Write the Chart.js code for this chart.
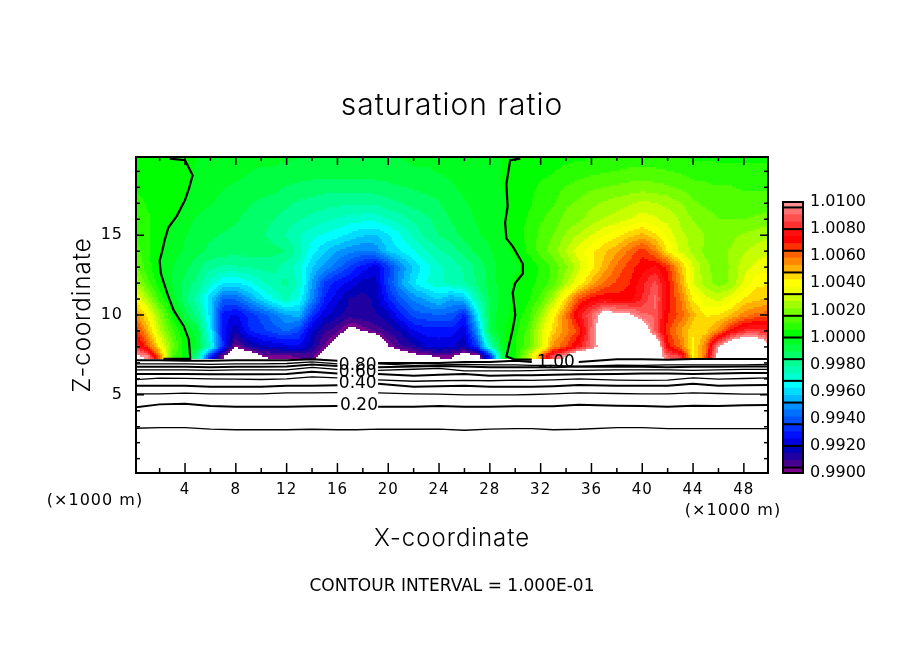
<!DOCTYPE html>
<html>
<head>
<meta charset="utf-8">
<title>saturation ratio</title>
<script src="https://cdn.jsdelivr.net/npm/chart.js@4"></script>
<style>
  html, body { margin: 0; padding: 0; background: #fff; }
  #wrap { position: relative; width: 904px; height: 654px; overflow: hidden; }
  #main { position: absolute; left: 0; top: 0; }
  #bar { position: absolute; left: 770px; top: 190px; }
</style>
</head>
<body>
<div id="wrap">
  <canvas id="main" width="904" height="654"></canvas>
  <canvas id="bar" width="134" height="300"></canvas>
</div>
<script>
// saturation ratio, as (S - 1) * 10000. one row per height (x = 0..50 km)
// +-130 means the picture is white there (out of the colour range)
const fieldHeights = [7.4, 8, 9, 10, 11, 12, 13, 14, 15, 16, 17, 18, 19, 20];
const row07 = [104,99,60,12,3,-20,-70,-100,-125,-115,-101,-99,-98,-96,-95,-108,-125,-130,-130,-130,-130,-115,-105,-102,-100,-100,-110,-108,-70,-10,5,25,55,90,102,125,130,130,130,130,130,115,92,85,42,60,110,130,130,130,130];
const row08 = [85,66,42,18,3,-6,-28,-68,-100,-88,-82,-80,-78,-76,-85,-97,-110,-125,-130,-125,-100,-92,-88,-80,-78,-80,-84,-65,-28,-3,5,14,30,55,64,78,92,110,130,130,130,125,72,60,40,58,100,120,130,125,105];
const row09 = [72,52,28,12,0,-8,-35,-72,-84,-70,-66,-62,-58,-64,-80,-90,-94,-105,-100,-94,-90,-84,-75,-72,-72,-72,-78,-50,-10,-1,4,12,30,46,56,66,92,115,130,130,115,90,66,54,44,46,56,72,82,84,80];
const row10 = [58,42,22,4,-8,-18,-40,-72,-76,-68,-62,-55,-48,-46,-66,-78,-84,-88,-86,-86,-82,-70,-62,-60,-59,-60,-70,-38,-9,-2,2,8,22,40,58,78,90,108,105,102,92,90,70,62,50,42,43,48,56,60,62];
const row11 = [42,26,9,-2,-14,-24,-42,-58,-58,-50,-40,-32,-25,-33,-52,-70,-78,-86,-88,-84,-70,-60,-52,-47,-42,-48,-44,-24,-10,-3,1,4,12,26,45,64,72,74,72,72,80,92,72,59,42,34,30,36,43,47,48];
const row12 = [28,13,2,-6,-12,-18,-28,-37,-38,-34,-28,-23,-20,-28,-48,-65,-72,-76,-82,-82,-64,-49,-38,-32,-28,-25,-22,-15,-8,-3,1,3,7,13,25,38,50,60,65,69,78,87,72,54,32,24,19,22,33,41,42];
const row13 = [18,8,0,-5,-9,-14,-20,-22,-22,-21,-20,-20,-24,-30,-42,-50,-57,-65,-72,-78,-66,-52,-42,-34,-28,-25,-20,-15,-8,-3,-1,1,6,12,20,30,40,50,60,67,72,76,68,50,32,23,18,22,30,34,36];
const row14 = [14,7,1,-3,-6,-9,-12,-13,-14,-13,-13,-14,-16,-24,-35,-42,-48,-52,-54,-52,-42,-37,-33,-27,-22,-19,-14,-9,-6,-2,1,6,13,19,27,35,41,47,52,60,68,58,42,31,25,20,19,22,26,29,31];
const row15 = [11,6,2,-2,-5,-8,-10,-11,-12,-13,-15,-18,-22,-26,-30,-33,-35,-39,-42,-43,-38,-32,-26,-20,-16,-13,-9,-6,-4,-1,2,7,12,16,22,27,32,37,41,46,50,44,36,28,25,21,19,20,22,24,26];
const row16 = [9,6,4,1,-3,-6,-8,-9,-10,-12,-14,-16,-18,-21,-23,-25,-27,-29,-30,-30,-27,-24,-20,-17,-14,-10,-7,-5,-3,-1,2,6,10,13,18,20,24,27,29,32,35,33,30,26,21,18,16,16,16,17,18];
const row17 = [7,5,3,2,0,-3,-5,-7,-9,-10,-12,-13,-15,-17,-18,-19,-20,-20,-20,-20,-18,-16,-14,-13,-11,-8,-6,-4,-3,-1,1,4,8,10,15,17,20,22,24,26,28,27,25,22,17,15,14,13,13,13,13];
const row18 = [5,4,3,3,1,-2,-3,-5,-6,-7,-8,-9,-11,-12,-13,-14,-14,-14,-14,-13,-12,-11,-10,-9,-8,-6,-4,-3,-2,0,2,4,6,8,11,13,15,16,17,18,19,18,17,15,13,12,11,11,10,10,10];
const row19 = [3,3,2,2,2,-1,-2,-3,-4,-5,-6,-6,-7,-8,-8,-8,-8,-8,-8,-8,-8,-7,-6,-6,-5,-4,-4,-2,-1,0,2,3,4,5,7,8,9,10,11,12,12,12,11,10,8,8,7,7,7,7,7];
const row20 = [2,2,2,2,2,0,-1,-2,-3,-3,-4,-4,-4,-5,-5,-5,-5,-5,-5,-5,-5,-5,-4,-4,-3,-3,-2,-1,-1,0,1,2,2,3,3,4,4,5,5,6,6,6,5,5,4,4,4,4,4,4,4];
const fieldRows = [row07, row08, row09, row10, row11, row12, row13, row14, row15, row16, row17, row18, row19, row20];

// colour bands, bottom to top. every band after the first is 16/3 wide between the black lines
const bandColors = ["#7c0090",
  "#480090","#2000a0","#0000b8", "#0000e0","#0010ff","#0030ff", "#0050ff","#0070ff","#0090ff",
  "#00b8ff","#00dcff","#00ffff", "#00ffd0","#00ffb0","#00ff90", "#00ff68","#00ff40","#00ff20",
  "#00ff00","#28ff00","#50ff00", "#78ff00","#a0ff00","#c8ff00", "#f0ff00","#ffff00","#ffd800",
  "#ffb000","#ff8800","#ff6000", "#ff3000","#ff0000","#ff1010", "#ff3030","#ff5050","#ff7070",
  "#ff9090"];
const barTicks = [0.99, 0.992, 0.994, 0.996, 0.998, 1.0, 1.002, 1.004, 1.006, 1.008, 1.01];
const bandLines = [-96, -80, -64, -48, -32, -16, 0, 16, 32, 48, 64, 80, 96];

// contour lines of the white part, heights in km along contourX
const contourX = [0,2,4,6,8,10,12,14,16,17.5,19.2,22,24,26,28,30,31.3,33,35,38,40,42,44,46,48,50];
const c01 = [2.90,2.94,2.94,2.85,2.81,2.81,2.81,2.84,2.81,2.81,2.85,2.84,2.85,2.78,2.85,2.88,2.88,2.81,2.84,2.94,2.94,2.88,2.88,2.88,2.88,2.88];
const c02 = [4.20,4.40,4.44,4.30,4.25,4.25,4.25,4.28,4.30,null,4.25,4.25,4.30,4.25,4.25,4.28,4.28,4.28,4.37,4.32,4.30,4.25,4.31,4.30,4.34,4.37];
const c03 = [5.06,5.06,5.10,5.06,5.06,5.06,5.12,5.12,5.14,null,5.12,5.06,5.04,5.00,5.00,5.00,5.02,5.06,5.12,5.08,5.06,5.06,5.12,5.08,5.04,5.04];
const c04 = [5.56,5.56,5.56,5.50,5.50,5.50,5.56,5.56,5.60,null,5.69,5.50,5.54,5.56,5.50,5.50,5.50,5.54,5.62,5.56,5.56,5.56,5.69,5.56,5.60,5.62];
const c05 = [5.94,6.05,6.03,6.00,5.98,5.96,6.00,6.12,6.06,null,5.94,5.85,5.88,5.90,5.88,5.92,5.90,5.94,6.00,5.92,5.90,5.92,6.06,5.98,6.02,6.06];
const c06 = [6.31,6.31,6.31,6.28,6.28,6.28,6.31,6.45,6.34,null,6.31,6.19,6.25,6.31,6.20,6.22,6.22,6.25,6.28,6.30,6.34,6.34,6.31,6.34,6.37,6.37];
const c07 = [6.56,6.56,6.56,6.53,6.56,6.56,6.56,6.72,6.59,null,6.53,6.60,6.66,6.50,6.50,6.50,6.52,6.56,6.53,6.56,6.56,6.56,6.53,6.56,6.59,6.59];
const c08 = [6.75,6.75,6.75,6.72,6.75,6.75,6.78,6.90,6.80,null,6.72,6.78,6.80,6.78,6.72,6.72,6.72,6.72,6.78,6.75,6.75,6.72,6.75,6.75,6.78,6.78];
const c09 = [6.94,6.94,6.94,6.90,6.94,6.94,6.96,7.06,6.94,null,6.94,6.84,6.88,6.90,6.88,6.88,6.84,6.84,6.78,6.85,6.84,6.88,6.88,6.88,6.88,6.90];
const c10 = [7.17,7.17,7.13,7.13,7.17,7.17,7.17,7.22,7.13,null,7.00,7.00,7.00,7.06,7.06,7.13,7.06,null,7.06,7.22,7.22,7.19,7.25,7.25,7.25,7.25];
const contourRows = [c01, c02, c03, c04, c05, c06, c07, c08, c09, c10];
const contourWidths = [1.3, 2, 1.3, 2, 1.3, 2, 1.3, 2, 1.3, 2];

// the S = 1 lines through the coloured part
const leftZeroX = [2.8,4,4.6,4.3,4,3.35,2.7,2.4,2.2,2,2.1,2.6,3.1,3.9,4.3,4.4,4.4,2.3];
const leftZeroZ = [19.8,19.7,18.75,17.9,17.2,16.2,15.5,14.7,14,13.4,12.6,11.35,10.3,9.3,8.45,7.4,7.25,7.25];
const rightZeroX = [30.4,29.6,29.3,29.4,29.2,29.3,29.8,30.6,30.6,30,29.8,30,29.8,29.3,30,31.3];
const rightZeroZ = [19.8,19.7,18.2,16.8,15.8,14.8,14.3,13.2,12.6,12,11.4,10,9.1,7.4,7.2,7.2];

const xTicks = [4, 8, 12, 16, 20, 24, 28, 32, 36, 40, 44, 48];
const xMinor = [2, 6, 10, 14, 18, 22, 26, 30, 34, 38, 42, 46];
const zTicks = [5, 10, 15];
const zMinor = [1,2,3,4,6,7,8,9,11,12,13,14,16,17,18,19];

const font = "'DejaVu Sans'";
const thinFont = "Inter,'DejaVu Sans'";
const fieldFloor = 7.3; // nothing is coloured below this height

function bandEdges() {
  const edges = [-100, -96];
  for (let i = 1; i <= 36; i++) edges.push(-96 + i * 16 / 3);
  edges.push(100);
  return edges;
}
const edges = bandEdges();

function bandColor(v) {
  if (v < -100 || v > 100) return null;
  for (let i = 0; i < bandColors.length; i++) {
    if (v <= edges[i + 1]) return bandColors[i];
  }
  return null;
}

function fieldAt(x, z) {
  const xi = Math.min(Math.max(x, 0), 49.999);
  const i = Math.floor(xi), fx = xi - i;
  let j = 0;
  while (j < fieldHeights.length - 2 && z > fieldHeights[j + 1]) j++;
  let fz = (z - fieldHeights[j]) / (fieldHeights[j + 1] - fieldHeights[j]);
  fz = Math.min(Math.max(fz, 0), 1);
  const a = fieldRows[j][i] * (1 - fx) + fieldRows[j][i + 1] * fx;
  const b = fieldRows[j + 1][i] * (1 - fx) + fieldRows[j + 1][i + 1] * fx;
  return a * (1 - fz) + b * fz;
}

// filled contours between the grid rows, placed with the chart's scales
const fieldPlugin = {
  id: "field",
  beforeDatasetsDraw(chart) {
    const { ctx, chartArea: a, scales: { x, y } } = chart;
    const floor = y.getPixelForValue(fieldFloor);
    const step = 2;
    for (let py = a.top; py < floor; py += step) {
      for (let px = a.left; px < a.right; px += step) {
        const c = bandColor(fieldAt(x.getValueForPixel(px + 1), y.getValueForPixel(py + 1)));
        if (!c) continue;
        ctx.fillStyle = c;
        ctx.fillRect(px, py, step, step);
      }
    }
  },
};

// frame with ticks pointing inward on all four sides
const framePlugin = {
  id: "frame",
  afterDatasetsDraw(chart) {
    const { ctx, chartArea: a, scales: { x, y } } = chart;
    ctx.save();
    ctx.strokeStyle = "#000";
    ctx.lineWidth = 1.5;
    const tick = (x1, y1, x2, y2) => {
      ctx.beginPath(); ctx.moveTo(x1, y1); ctx.lineTo(x2, y2); ctx.stroke();
    };
    xTicks.forEach((v) => {
      const p = x.getPixelForValue(v);
      tick(p, a.bottom, p, a.bottom - 10);
      tick(p, a.top, p, a.top + 8);
    });
    xMinor.forEach((v) => {
      const p = x.getPixelForValue(v);
      tick(p, a.bottom, p, a.bottom - 5);
      tick(p, a.top, p, a.top + 4);
    });
    zTicks.forEach((v) => {
      const p = y.getPixelForValue(v);
      tick(a.left, p, a.left + 8, p);
      tick(a.right, p, a.right - 8, p);
    });
    zMinor.forEach((v) => {
      const p = y.getPixelForValue(v);
      tick(a.left, p, a.left + 4, p);
      tick(a.right, p, a.right - 4, p);
    });
    ctx.lineWidth = 2;
    ctx.strokeRect(a.left, a.top, a.right - a.left, a.bottom - a.top);
    ctx.restore();
  },
};

// texts that are not axis or chart titles
const textPlugin = {
  id: "texts",
  beforeDraw(chart) {
    chart.ctx.letterSpacing = "1px";
  },
  afterDraw(chart) {
    const { ctx, scales: { x, y } } = chart;
    const put = (s, px, py, size) => {
      ctx.font = size + "px " + font;
      ctx.fillText(s, px, py);
    };
    ctx.save();
    ctx.fillStyle = "#000";
    ctx.textAlign = "center";
    ctx.textBaseline = "middle";
    put("(×1000 m)", 95, 501, 16);
    put("(×1000 m)", 733, 511, 16);
    ctx.letterSpacing = "0px";
    put("CONTOUR INTERVAL = 1.000E-01", 452, 587, 17);
    put("0.80", x.getPixelForValue(17.6), y.getPixelForValue(6.85), 17);
    put("0.60", x.getPixelForValue(17.6), y.getPixelForValue(6.4), 17);
    put("0.40", x.getPixelForValue(17.6), y.getPixelForValue(5.7), 17);
    put("0.20", x.getPixelForValue(17.7), y.getPixelForValue(4.3), 17);
    put("1.00", x.getPixelForValue(33.2), y.getPixelForValue(7.0), 17);
    ctx.restore();
  },
};

function toPoints(xs, ys) {
  return xs.map((v, i) => ({ x: v, y: ys[i] }));
}

const lineSets = contourRows.map((r, i) => ({
  label: "contour " + ((i + 1) / 10).toFixed(2),
  data: toPoints(contourX, r),
  showLine: true,
  borderColor: "#000",
  borderWidth: contourWidths[i],
  pointRadius: 0,
  tension: 0,
  spanGaps: false,
}));
lineSets.push({
  label: "S = 1 left", data: toPoints(leftZeroX, leftZeroZ), showLine: true,
  borderColor: "#000", borderWidth: 2.2, pointRadius: 0, tension: 0,
});
lineSets.push({
  label: "S = 1 right", data: toPoints(rightZeroX, rightZeroZ), showLine: true,
  borderColor: "#000", borderWidth: 2.2, pointRadius: 0, tension: 0,
});

new Chart(document.getElementById("main"), {
  type: "scatter",
  data: { datasets: lineSets },
  plugins: [textPlugin, fieldPlugin, framePlugin],
  options: {
    responsive: false,
    animation: false,
    devicePixelRatio: 1,
    events: [],
    layout: { padding: 0 },
    plugins: {
      legend: { display: false },
      tooltip: { enabled: false },
      title: {
        display: true,
        text: "saturation ratio",
        color: "#000",
        font: { family: thinFont, size: 30, weight: "300", lineHeight: 1.2 },
        padding: { top: 88, bottom: 33 },
      },
    },
    scales: {
      x: {
        type: "linear",
        min: 0.14,
        max: 49.9,
        position: "bottom",
        afterFit(s) { s.height = 181; },
        afterBuildTicks(s) { s.ticks = xTicks.map((v) => ({ value: v })); },
        grid: { display: false, drawTicks: false },
        border: { display: false },
        ticks: { color: "#000", padding: 8, maxRotation: 0, font: { family: font, size: 15 } },
        title: {
          display: true,
          text: "X-coordinate",
          color: "#000",
          font: { family: thinFont, size: 24, weight: "300", lineHeight: 1.2 },
          padding: { top: 0, bottom: 100.6 },
        },
      },
      y: {
        type: "linear",
        min: 0.1,
        max: 19.9,
        position: "left",
        afterFit(s) { s.width = 136; },
        afterBuildTicks(s) { s.ticks = zTicks.map((v) => ({ value: v })); },
        grid: { display: false, drawTicks: false },
        border: { display: false },
        ticks: { color: "#000", padding: 13, font: { family: font, size: 16 } },
        title: {
          display: true,
          text: "Z-coordinate",
          color: "#000",
          font: { family: thinFont, size: 24, weight: "300", lineHeight: 1.2 },
          padding: { top: 68.6, bottom: 0 },
        },
      },
      y2: {
        type: "linear",
        position: "right",
        min: 0,
        max: 1,
        afterFit(s) { s.width = 136; },
        grid: { display: false, drawTicks: false },
        border: { display: false },
        ticks: { display: false },
      },
    },
  },
});

// colour bar, one floating bar per band
const barFrame = {
  id: "barFrame",
  afterDatasetsDraw(chart) {
    const { ctx, chartArea: a, scales: { y } } = chart;
    ctx.save();
    ctx.strokeStyle = "#000";
    ctx.lineWidth = 2;
    bandLines.forEach((v) => {
      const p = y.getPixelForValue(1 + v / 10000);
      ctx.beginPath(); ctx.moveTo(a.left, p); ctx.lineTo(a.right, p); ctx.stroke();
    });
    ctx.strokeRect(a.left, a.top, a.right - a.left, a.bottom - a.top);
    ctx.restore();
  },
};

new Chart(document.getElementById("bar"), {
  type: "bar",
  data: {
    labels: [""],
    datasets: bandColors.map((c, i) => ({
      data: [[1 + edges[i] / 10000, 1 + edges[i + 1] / 10000]],
      backgroundColor: c,
      borderWidth: 0,
      grouped: false,
      barPercentage: 1,
      categoryPercentage: 1,
    })),
  },
  plugins: [barFrame],
  options: {
    responsive: false,
    animation: false,
    devicePixelRatio: 1,
    events: [],
    layout: { padding: { top: 12, bottom: 17, left: 13, right: 0 } },
    plugins: { legend: { display: false }, tooltip: { enabled: false } },
    scales: {
      x: { display: false },
      y: {
        position: "right",
        min: 0.99,
        max: 1.01,
        afterFit(s) { s.width = 101; s.paddingTop = 0; s.paddingBottom = 0; },
        afterBuildTicks(s) { s.ticks = barTicks.map((v) => ({ value: v })); },
        grid: { display: false, drawTicks: false },
        border: { display: false },
        ticks: {
          color: "#000",
          padding: 7,
          font: { family: font, size: 16 },
          callback: (v) => v.toFixed(4),
        },
      },
    },
  },
});
</script>
</body>
</html>
